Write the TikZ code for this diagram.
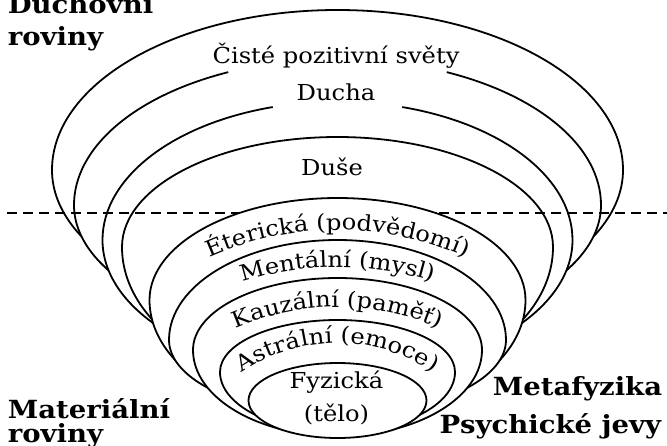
\documentclass[tikz,border=0pt]{standalone}
\usepackage{fontspec}
\setmainfont{DejaVu Serif}[FakeStretch=1.1]
\usetikzlibrary{decorations.text}
\newcommand\lblfont{\fontsize{22}{26}\selectfont}
\newcommand\eggpath[4]{(337.5-#2,#1) arc[start angle=180,end angle=0,x radius=#2pt,y radius=#3pt] arc[start angle=0,end angle=-180,x radius=#2pt,y radius=#4pt] -- cycle}
\begin{document}
\begin{tikzpicture}[x=1pt,y=-1pt,line width=1.8pt,
  lbl/.style={font=\lblfont,inner sep=0pt},
  blbl/.style={font=\fontsize{25}{30}\selectfont\bfseries,inner sep=0pt},
  layer/.style={fill=white,draw=black},
  divider/.style={dashed,dash pattern=on 9.5pt off 6.5pt}]
\useasboundingbox (0,0) rectangle (667,445);
% outermost shape
\filldraw[layer] \eggpath{170}{285.5}{160}{150};
% shape with gap (Cisté pozitivní svety)
\fill[white] \eggpath{205}{263.5}{146}{132};
\draw ({337.5+263.5*cos(65.5)},{205-146*sin(65.5)}) arc[start angle=65.5,end angle=0,x radius=263.5pt,y radius=146pt]
  arc[start angle=0,end angle=-180,x radius=263.5pt,y radius=132pt]
  arc[start angle=180,end angle=114.5,x radius=263.5pt,y radius=146pt];
% shape with gap (Ducha)
\fill[white] \eggpath{240}{235}{138.3}{134};
\draw ({337.5+235*cos(74)},{240-138.3*sin(74)}) arc[start angle=74,end angle=0,x radius=235pt,y radius=138.3pt]
  arc[start angle=0,end angle=-180,x radius=235pt,y radius=134pt]
  arc[start angle=180,end angle=106,x radius=235pt,y radius=138.3pt];
% Duse
\filldraw[layer] \eggpath{247}{215.5}{110}{142};
% dashed divider
\draw[divider] (7,213) -- (667,213);
% inner shapes
\filldraw[layer] \eggpath{300}{188}{102}{119};
\filldraw[layer] \eggpath{340}{168.5}{100}{75};
\filldraw[layer] \eggpath{350}{144.5}{72}{86};
\filldraw[layer] \eggpath{372}{117.5}{52}{60};
\filldraw[layer] (337.5,400.5) ellipse[x radius=89pt,y radius=37.5pt];
% straight labels
\node[lbl,anchor=base] (cisty) at (336,63) {Čisté pozitivní světy};
\node[lbl,anchor=base] (ducha) at (336,100) {Ducha};
\node[lbl,anchor=base] (duse) at (332,175) {Duše};
\node[lbl,anchor=base] (fyz) at (336.5,388) {Fyzická};
\node[lbl,anchor=base] (telo) at (336.5,421) {(tělo)};
% curved labels
\path[decorate,decoration={text along path,text align=center,text={|\lblfont|Éterická (podvědomí)}}]
  ({337.5+314*cos(130)},{544-314*sin(130)}) arc[start angle=130,end angle=50,radius=314pt];
\path[decorate,decoration={text along path,text align=center,text={|\lblfont|Mentální (mysl)}}]
  ({337.5+317*cos(125)},{584-317*sin(125)}) arc[start angle=125,end angle=55,radius=317pt];
\path[decorate,decoration={text along path,text align=center,text={|\lblfont|Kauzální (paměť)}}]
  ({337.5+253*cos(135)},{560-253*sin(135)}) arc[start angle=135,end angle=45,radius=253pt];
\path[decorate,decoration={text along path,text align=center,text={|\lblfont|Astrální (emoce)}}]
  ({337.5+170*cos(150)},{513-170*sin(150)}) arc[start angle=150,end angle=30,radius=170pt];
% bold side labels
\node[blbl,anchor=base west] (duch1) at (7,13) {Duchovní};
\node[blbl,anchor=base west] (duch2) at (7,45) {roviny};
\node[blbl,anchor=base west] (mat1) at (7,418) {Materiální};
\node[blbl,anchor=base west] (mat2) at (7,442) {roviny};
\node[blbl,anchor=base east] (meta) at (663,395) {Metafyzika};
\node[blbl,anchor=base east] (psy) at (662,433) {Psychické jevy};
\end{tikzpicture}
\end{document}
